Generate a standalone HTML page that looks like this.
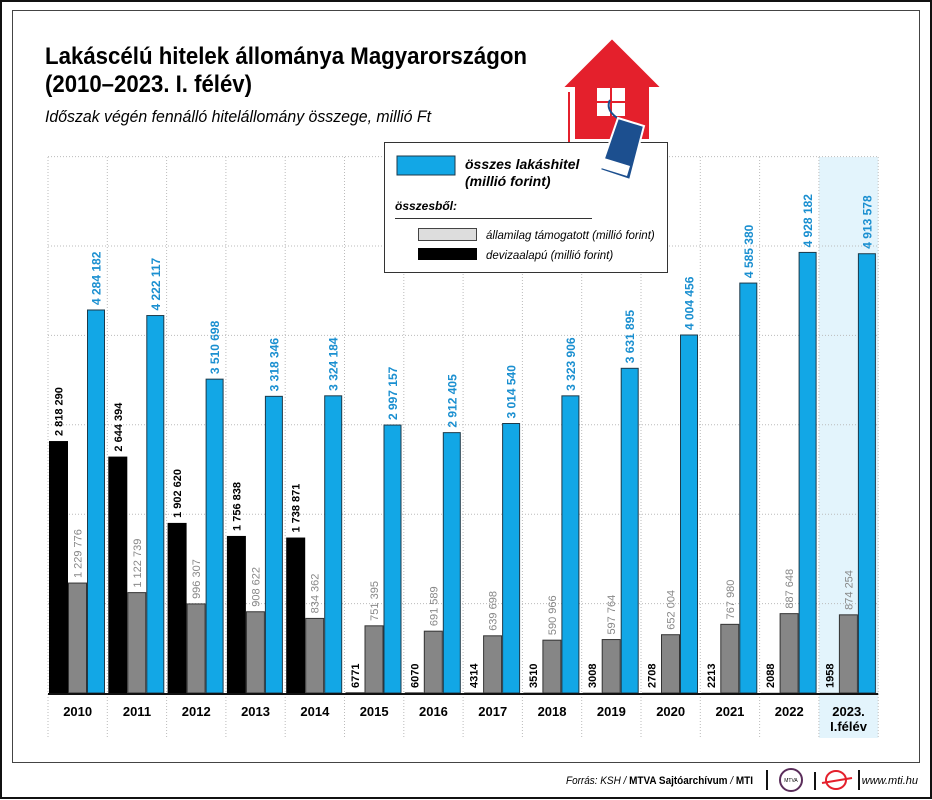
<!DOCTYPE html>
<html><head><meta charset="utf-8"><style>
html,body{margin:0;padding:0;background:#fff;}
svg{display:block;font-family:"Liberation Sans",sans-serif;}
</style></head><body>
<svg id="chart" width="932" height="800" viewBox="0 0 932 800">
<rect x="1" y="1" width="930" height="797" fill="#fff" stroke="#111" stroke-width="2"/>
<rect x="12.5" y="10.5" width="907" height="752" fill="none" stroke="#444" stroke-width="1"/>
<text x="45" y="64" font-size="24" font-weight="bold" textLength="482" lengthAdjust="spacingAndGlyphs">Lakáscélú hitelek állománya Magyarországon</text>
<text x="45" y="92" font-size="24" font-weight="bold" textLength="207" lengthAdjust="spacingAndGlyphs">(2010–2023. I. félév)</text>
<text x="45" y="122" font-size="17" font-style="italic" textLength="386" lengthAdjust="spacingAndGlyphs">Időszak végén fennálló hitelállomány összege, millió Ft</text>
<g id="plot"></g>
<g>
<path d="M612 38 L662 88 L650 88 L650 140 L574 140 L574 88 L562 88 Z" fill="#e4202c" stroke="#fff" stroke-width="2"/>
<path d="M569 92 L569 145 L655 145" fill="none" stroke="#e4202c" stroke-width="2"/>
<rect x="597" y="88" width="28" height="28" fill="#fff"/>
<line x1="611" y1="88" x2="611" y2="116" stroke="#e4202c" stroke-width="2"/>
<line x1="597" y1="102" x2="625" y2="102" stroke="#e4202c" stroke-width="2"/>
</g>
<g>
<rect x="384.5" y="142.5" width="283" height="130" fill="#fff" stroke="#333"/>
<rect x="397" y="156" width="58" height="19" fill="#12a7e6" stroke="#1d3a4a"/>
<text x="465" y="169" font-size="14" font-weight="bold" font-style="italic">összes lakáshitel</text>
<text x="465" y="186" font-size="14" font-weight="bold" font-style="italic">(millió forint)</text>
<text x="395" y="210" font-size="12" font-weight="bold" font-style="italic">összesből:</text>
<line x1="395" y1="218.5" x2="592" y2="218.5" stroke="#333"/>
<rect x="418.5" y="228.5" width="58" height="12" fill="#ddd" stroke="#444"/>
<text x="486" y="239" font-size="11.5" font-style="italic">államilag támogatott (millió forint)</text>
<rect x="418" y="248" width="59" height="12" fill="#000"/>
<text x="486" y="259" font-size="11.5" font-style="italic">devizaalapú (millió forint)</text>
</g>
<g>
<path d="M610 100 C605 110 615 118 625 122" fill="none" stroke="#1c4f8f" stroke-width="2"/>
<path d="M618 118 L644 126 L630 180 L600 170 Z" fill="#1c4f8f" stroke="#fff" stroke-width="2"/>
<path d="M604 158 L630 166 L627 176 L601 168 Z" fill="#fff"/>
</g>
<g>
<text x="566" y="784" font-size="11" font-style="italic" textLength="187" lengthAdjust="spacingAndGlyphs">Forrás: KSH / <tspan font-weight="bold" font-style="normal">MTVA Sajtóarchívum</tspan> / <tspan font-weight="bold" font-style="normal">MTI</tspan></text>
<rect x="766" y="770" width="2" height="20" fill="#111"/>
<circle cx="791" cy="780" r="11" fill="#fff" stroke="#5a2d5a" stroke-width="2"/>
<text x="791" y="782" font-size="5" text-anchor="middle">MTVA</text>
<rect x="814" y="772" width="2" height="18" fill="#111"/>
<ellipse cx="836" cy="780" rx="10" ry="9" fill="none" stroke="#e4202c" stroke-width="2"/>
<line x1="822" y1="783" x2="852" y2="778" stroke="#e4202c" stroke-width="2"/>
<rect x="858" y="770" width="2" height="20" fill="#111"/>
<text x="918" y="784" font-size="11" font-style="italic" text-anchor="end">www.mti.hu</text>
</g>
</svg>
<script>
const categories=["2010","2011","2012","2013","2014","2015","2016","2017","2018","2019","2020","2021","2022","2023."];
const fxValues=[2818290,2644394,1902620,1756838,1738871,6771,6070,4314,3510,3008,2708,2213,2088,1958];
const stateValues=[1229776,1122739,996307,908622,834362,751395,691589,639698,590966,597764,652004,767980,887648,874254];
const totalValues=[4284182,4222117,3510698,3318346,3324184,2997157,2912405,3014540,3323906,3631895,4004456,4585380,4928182,4913578];
const gridTicks=[0,1000000,2000000,3000000,4000000,5000000,6000000];

const NS="http://www.w3.org/2000/svg";
const plot=document.getElementById('plot');
const X0=48,GW=59.3,BASE=693,PXM=89.4/1e6,TOP=157,BOT=738;
const y=v=>BASE-v*PXM;
const gx=i=>X0+i*GW;
function mk(tag,attrs,parent){const e=document.createElementNS(NS,tag);for(const k in attrs)e.setAttribute(k,attrs[k]);(parent||plot).appendChild(e);return e;}
const fmt=v=>v>=10000?String(v).replace(/\B(?=(\d{3})+(?!\d))/g,' '):String(v);

const hl=mk('rect',{x:gx(13),y:TOP,width:GW,height:BOT-TOP,fill:'#e3f4fc'});


gridTicks.forEach(t=>{if(t===0)return;const l=mk('line',{x1:X0,x2:gx(14),y1:y(t),y2:y(t),stroke:'#bbb','stroke-dasharray':'1 2'});

});
for(let i=0;i<=14;i++){const l=mk('line',{x1:gx(i),x2:gx(i),y1:TOP,y2:BOT,stroke:'#bbb','stroke-dasharray':'1 2'});

}

function label(txt,cx,yy,color,weight){const t=mk('text',{x:0,y:0,transform:`translate(${cx+4},${yy}) rotate(-90)`,'font-size':11,'font-weight':weight,fill:color});t.textContent=txt;return t;}

categories.forEach((c,i)=>{
  const bx=gx(i)+1,bw=19;
  const fx=fxValues[i],st=stateValues[i],tot=totalValues[i];
  const b1=mk('rect',{x:bx,y:y(fx),width:bw,height:BASE-y(fx),fill:'#000'});
  
  
  const b2=mk('rect',{x:bx+bw+0.5,y:y(st),width:bw-1,height:BASE-y(st),fill:'#868686',stroke:'#333','stroke-width':1});
  
  
  const b3=mk('rect',{x:bx+2*bw+0.5,y:y(tot),width:bw-2,height:BASE-y(tot),fill:'#12a7e6',stroke:'#1d3a4a','stroke-width':1});
  
  
  let l1;
  if(fx>=100000) l1=label(fmt(fx),bx+bw/2,y(fx)-5,'#000','bold');
  else l1=label(fmt(fx),bx+bw/2,BASE-5,'#000','bold');
  
  
  const l2=label(fmt(st),bx+bw*1.5,y(st)-5,'#888','normal');
  
  
  const l3=label(fmt(tot),bx+bw*2.5,y(tot)-5,'#1a8fd0','bold');
  l3.setAttribute('font-size','12');
  
  
  const xl=mk('text',{x:gx(i)+GW/2,y:716,'font-size':13,'font-weight':'bold','text-anchor':'middle'});
  xl.textContent=c;
  
  
  if(i===13){const x2=mk('text',{x:gx(i)+GW/2,y:731,'font-size':13,'font-weight':'bold','text-anchor':'middle'});x2.textContent='I.félév';
    
    }
});
const ax=mk('line',{x1:X0,x2:gx(14),y1:BASE+1,y2:BASE+1,stroke:'#111','stroke-width':2});


</script>
</body></html>
